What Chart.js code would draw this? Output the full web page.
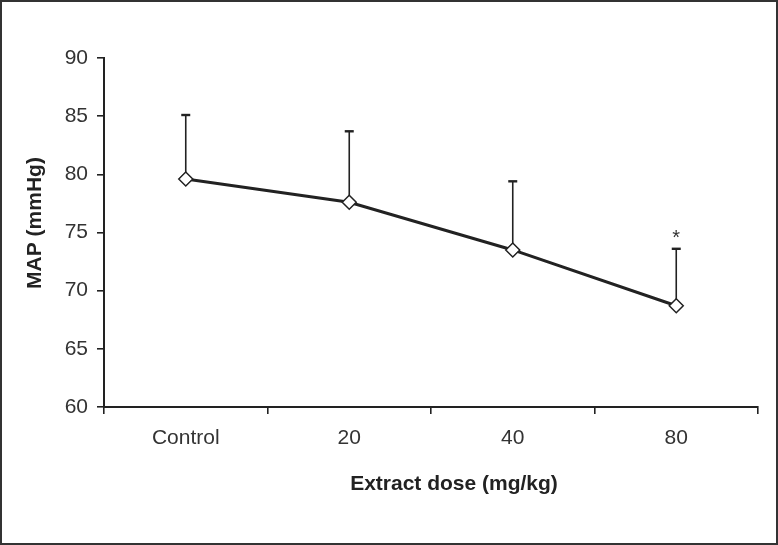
<!DOCTYPE html>
<html><head><meta charset="utf-8">
<script src="https://cdn.jsdelivr.net/npm/chart.js@4/dist/chart.umd.min.js"></script>
<style>html,body{margin:0;padding:0;background:#fff;}#wrap{position:relative;width:778px;height:545px;}</style>
</head><body><div id="wrap"><canvas id="c" width="778" height="545"></canvas></div>
<script>
const categories = ['Control', '20', '40', '80'];
const mapMean = [79.6, 77.6, 73.5, 68.7];
const mapSD = [5.5, 6.1, 5.9, 4.9];
const significance = ['', '', '', '*'];
const yTickValues = [60, 65, 70, 75, 80, 85, 90];
const yAxisTitle = 'MAP (mmHg)';
const xAxisTitle = 'Extract dose (mg/kg)';

const FONT = '"Liberation Sans", Arial, Helvetica, sans-serif';
const INK = '#222';
const TXT = '#333';

const framePlugin = {
  id: 'frame',
  beforeDraw(chart) {
    const ctx = chart.ctx;
    ctx.save();
    ctx.fillStyle = '#fff';
    ctx.fillRect(0, 0, chart.width, chart.height);
    ctx.strokeStyle = '#333';
    ctx.lineWidth = 2;
    ctx.strokeRect(1, 1, chart.width - 2, chart.height - 2);
    ctx.restore();
  }
};

const errorBarPlugin = {
  id: 'errorBars',
  beforeDatasetsDraw(chart) {
    const ctx = chart.ctx;
    const xs = chart.scales.x, ys = chart.scales.y;
    ctx.save();
    ctx.strokeStyle = INK;
    mapMean.forEach((m, i) => {
      const x = xs.getPixelForValue(i);
      const y0 = ys.getPixelForValue(m);
      const y1 = ys.getPixelForValue(m + mapSD[i]);
      ctx.lineWidth = 1.6;
      ctx.beginPath();
      ctx.moveTo(x, y0);
      ctx.lineTo(x, y1);
      ctx.stroke();
      ctx.lineWidth = 2.4;
      ctx.beginPath();
      ctx.moveTo(x - 4.5, y1);
      ctx.lineTo(x + 4.5, y1);
      ctx.stroke();
      if (significance[i]) {
        ctx.fillStyle = TXT;
        ctx.font = '20px ' + FONT;
        ctx.textAlign = 'center';
        ctx.textBaseline = 'middle';
        ctx.fillText(significance[i], x, y1 - 10);
      }
    });
    ctx.restore();
  }
};

const titlePlugin = {
  id: 'axisTitles',
  afterDraw(chart) {
    const ctx = chart.ctx;
    ctx.save();
    ctx.fillStyle = INK;
    ctx.font = 'bold 21px ' + FONT;
    ctx.textAlign = 'center';
    ctx.textBaseline = 'middle';
    ctx.fillText(xAxisTitle, 454, 484);
    ctx.translate(35, 223);
    ctx.rotate(-Math.PI / 2);
    ctx.fillText(yAxisTitle, 0, 0);
    ctx.restore();
  }
};

new Chart(document.getElementById('c'), {
  type: 'line',
  data: {
    labels: categories,
    datasets: [{
      data: mapMean,
      borderColor: INK,
      borderWidth: 3,
      tension: 0,
      pointStyle: 'rectRot',
      pointRadius: 7,
      pointHoverRadius: 7,
      pointBackgroundColor: '#fff',
      pointBorderColor: INK,
      pointBorderWidth: 1.5
    }]
  },
  options: {
    responsive: false,
    devicePixelRatio: 1,
    animation: false,
    layout: { padding: { left: 0, top: 58, right: 20, bottom: 0 } },
    plugins: { legend: { display: false }, tooltip: { enabled: false } },
    scales: {
      x: {
        type: 'category',
        offset: true,
        grid: { display: true, offset: true, drawOnChartArea: false, drawTicks: true, tickLength: 7, color: INK, lineWidth: 1.6 },
        border: { display: true, color: INK, width: 2 },
        ticks: { color: TXT, font: { size: 21, family: FONT }, padding: 12 },
        afterFit(s) { s.height = 138; }
      },
      y: {
        min: 60, max: 90,
        afterBuildTicks(s) { s.ticks = yTickValues.map(v => ({ value: v })); },
        grid: { display: true, drawOnChartArea: false, drawTicks: true, tickLength: 7, color: INK, lineWidth: 1.6 },
        border: { display: true, color: INK, width: 2 },
        ticks: { color: TXT, font: { size: 21, family: FONT }, padding: 9 },
        afterFit(s) { s.width = 104; }
      }
    }
  },
  plugins: [framePlugin, errorBarPlugin, titlePlugin]
});
</script></body></html>
